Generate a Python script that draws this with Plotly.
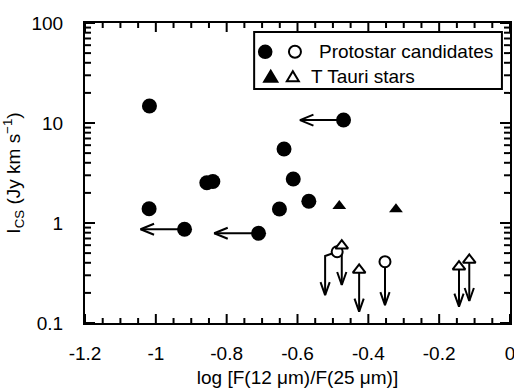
import numpy as np
import plotly.graph_objects as go

# ---------------- data ----------------
# Protostar candidates, detected (filled circles)
proto_x = [-1.018, -0.470, -0.638, -0.856, -0.839, -0.612, -0.568, -1.019, -0.651, -0.919, -0.710]
proto_y = [14.8, 10.7, 5.5, 2.53, 2.6, 2.75, 1.65, 1.39, 1.38, 0.865, 0.79]
# upper limits on the colour (left-pointing arrows): start point and limit
xlim_x = [-0.470, -0.919, -0.710]
xlim_y = [10.7, 0.865, 0.79]
xlim_to = [-0.593, -1.043, -0.835]

# Protostar candidates, CS upper limits (open circles)
proto_ul_x = [-0.488, -0.353]
proto_ul_y = [0.516, 0.41]
proto_ul_arrow_x = [-0.522, -0.353]   # x where the downward arrow is drawn
proto_ul_knee_y = [0.468, 0.41]
proto_ul_to = [0.19, 0.151]

# T Tauri stars, detected (filled triangles)
tt_x = [-0.482, -0.322]
tt_y = [1.48, 1.37]

# T Tauri stars, CS upper limits (open triangles)
tt_ul_x = [-0.475, -0.426, -0.144, -0.115]
tt_ul_y = [0.593, 0.339, 0.366, 0.427]
tt_ul_to = [0.24, 0.13, 0.146, 0.166]

x_ticks = [-1.2, -1.0, -0.8, -0.6, -0.4, -0.2, 0.0]
x_ticktext = ["-1.2", "-1", "-0.8", "-0.6", "-0.4", "-0.2", "0"]
y_ticks = [0.1, 1, 10, 100]
y_ticktext = ["0.1", "1", "10", "100"]
leg_labels = ["Protostar candidates", "T Tauri stars"]

FONT = "Liberation Sans, Arial, Helvetica, sans-serif"
X0, X1 = -1.2, 0.0
LY0, LY1 = -1, 2
PX_W, PX_H = 425, 300           # plot-area size in pixels

# ---------------- arrows ----------------
hx_len, hx_w = 0.038, 0.055     # horizontal arrow head: length in x, half width in decades
hv_len, hv_w = 0.13, 0.013      # vertical arrow head: length in decades, half width in x

ax_, ay_ = [], []
for x0, y0, x1 in zip(xlim_x, xlim_y, xlim_to):
    ax_ += [x0, x1, None, x1 + hx_len, x1, x1 + hx_len, None]
    ay_ += [y0, y0, None, y0 * 10 ** hx_w, y0, y0 / 10 ** hx_w, None]

def down_arrow(x, y_top, y_end, start=None):
    xs, ys = [], []
    if start is not None:
        xs += [start[0]]
        ys += [start[1]]
    xs += [x, x, None, x - hv_w, x, x + hv_w, None]
    ys += [y_top, y_end, None, y_end * 10 ** hv_len, y_end, y_end * 10 ** hv_len, None]
    return xs, ys

for x0, y0, xa, yk, y1 in zip(proto_ul_x, proto_ul_y, proto_ul_arrow_x, proto_ul_knee_y, proto_ul_to):
    start = (x0, y0) if xa != x0 else None
    xs, ys = down_arrow(xa, yk, y1, start)
    ax_ += xs
    ay_ += ys
for x0, y0, y1 in zip(tt_ul_x, tt_ul_y, tt_ul_to):
    xs, ys = down_arrow(x0, y0, y1)
    ax_ += xs
    ay_ += ys

fig = go.Figure()

# ---------------- tick marks (inside, on all four sides) as paper shapes ----------------
x_minor = [round(v, 2) for v in np.arange(X0, X1 + 0.001, 0.05)]
y_minor = [k * 10.0 ** d for d in (-1, 0, 1) for k in range(2, 10)]
TICK = dict(color="black", width=2)

def xtick(v, L):
    px = (v - X0) / (X1 - X0)
    h = L / PX_H
    fig.add_shape(type="line", xref="paper", yref="paper", x0=px, x1=px, y0=0, y1=h,
                  line=TICK, layer="above")
    fig.add_shape(type="line", xref="paper", yref="paper", x0=px, x1=px, y0=1, y1=1 - h,
                  line=TICK, layer="above")

def ytick(v, L):
    py = (np.log10(v) - LY0) / (LY1 - LY0)
    w = L / PX_W
    fig.add_shape(type="line", xref="paper", yref="paper", x0=0, x1=w, y0=py, y1=py,
                  line=TICK, layer="above")
    fig.add_shape(type="line", xref="paper", yref="paper", x0=1, x1=1 - w, y0=py, y1=py,
                  line=TICK, layer="above")

for v in x_minor:
    xtick(v, 9 if any(abs(v - t) < 1e-6 for t in x_ticks) else 5)
for v in y_ticks:
    ytick(v, 10)
for v in y_minor:
    ytick(v, 6)

fig.add_trace(go.Scatter(x=ax_, y=ay_, mode="lines",
                         line=dict(color="black", width=2), hoverinfo="skip", showlegend=False))

fig.add_trace(go.Scatter(x=proto_x, y=proto_y, mode="markers", showlegend=False,
                         marker=dict(symbol="circle", size=15, color="black")))
fig.add_trace(go.Scatter(x=tt_x, y=tt_y, mode="markers", showlegend=False,
                         marker=dict(symbol="triangle-up", size=12, color="black")))
fig.add_trace(go.Scatter(x=proto_ul_x, y=proto_ul_y, mode="markers", showlegend=False,
                         marker=dict(symbol="circle", size=11, color="white",
                                     line=dict(width=2, color="black"))))
fig.add_trace(go.Scatter(x=tt_ul_x, y=tt_ul_y, mode="markers", showlegend=False,
                         marker=dict(symbol="triangle-up", size=11, color="white",
                                     line=dict(width=2, color="black"))))

# ---------------- legend (paper coordinates = plot-area fractions) ----------------
fig.add_shape(type="rect", xref="paper", yref="paper", x0=0.398, x1=0.981, y0=0.78, y1=0.97,
              line=dict(color="black", width=2), fillcolor="white", layer="above")

def circ(xc, yc, r, fill):
    fig.add_shape(type="circle", xref="paper", yref="paper", xsizemode="pixel",
                  ysizemode="pixel", xanchor=xc, yanchor=yc, x0=-r, x1=r, y0=-r, y1=r,
                  fillcolor=fill, line=dict(color="black", width=2), layer="above")

def tri(xc, yc, h, fill):
    w = h * 0.6
    fig.add_shape(type="path", xref="paper", yref="paper", xsizemode="pixel",
                  ysizemode="pixel", xanchor=xc, yanchor=yc,
                  path=f"M {-w},{-h*0.45} L {w},{-h*0.45} L 0,{h*0.55} Z",
                  fillcolor=fill, line=dict(color="black", width=2), layer="above")

circ(0.424, 0.904, 6.3, "black")
circ(0.494, 0.904, 6.0, "white")
tri(0.437, 0.821, 11, "black")
tri(0.489, 0.821, 10, "white")

fig.add_annotation(xref="paper", yref="paper", x=0.546, y=0.904, text=leg_labels[0],
                   showarrow=False, xanchor="left", yanchor="middle",
                   font=dict(family=FONT, size=19, color="black"))
fig.add_annotation(xref="paper", yref="paper", x=0.527, y=0.821, text=leg_labels[1],
                   showarrow=False, xanchor="left", yanchor="middle",
                   font=dict(family=FONT, size=19, color="black"))

fig.update_layout(
    width=514, height=389,
    margin=dict(l=85, r=4, t=23, b=66, autoexpand=False),
    paper_bgcolor="white", plot_bgcolor="white",
    font=dict(family=FONT, size=19, color="black"),
    showlegend=False,
    xaxis=dict(range=[X0, X1], tickmode="array", tickvals=x_ticks, ticktext=x_ticktext,
               ticks="", ticklabelstandoff=12, automargin=False,
               ticklabeloverflow="allow",
               showline=True, linewidth=2, linecolor="black", mirror=True,
               showgrid=False, zeroline=False,
               title=dict(text="log [F(12 μm)/F(25 μm)]", standoff=8,
                          font=dict(size=19))),
    yaxis=dict(type="log", range=[LY0, LY1], tickmode="array", tickvals=y_ticks,
               ticktext=y_ticktext, ticks="", ticklabelstandoff=16, automargin=False,
               ticklabeloverflow="allow",
               showline=True, linewidth=2, linecolor="black", mirror=True,
               showgrid=False, zeroline=False,
               title=dict(text="I<sub>CS</sub> (Jy km s<sup>−1</sup>)", standoff=8,
                          font=dict(size=19))),
)

fig.write_html("out.html")
